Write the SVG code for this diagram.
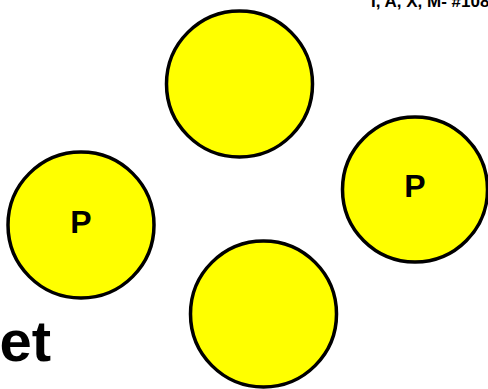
<svg xmlns="http://www.w3.org/2000/svg" width="488" height="389" viewBox="0 0 488 389">
<style>
.n{fill:#ffff00;stroke:#000;stroke-width:3.5}
.t{font-family:"Liberation Sans",Arial,sans-serif;font-weight:bold;fill:#000}
</style>
<rect width="488" height="389" fill="#fff"/>
<text class="t" x="371" y="6.5" font-size="17">I, A, X, M- #108</text>
<text class="t" x="51" y="361" font-size="58" text-anchor="end">et</text>
<g id="n1"><circle class="n" cx="239.5" cy="84" r="73"/></g>
<g id="n2"><circle class="n" cx="81" cy="225" r="73"/><text class="t" x="81" y="233" font-size="32" text-anchor="middle">P</text></g>
<g id="n3"><circle class="n" cx="415" cy="189.5" r="72.5"/><text class="t" x="415" y="197" font-size="32" text-anchor="middle">P</text></g>
<g id="n4"><circle class="n" cx="263.5" cy="314" r="73"/></g>
<g id="connectors"></g>
</svg>
